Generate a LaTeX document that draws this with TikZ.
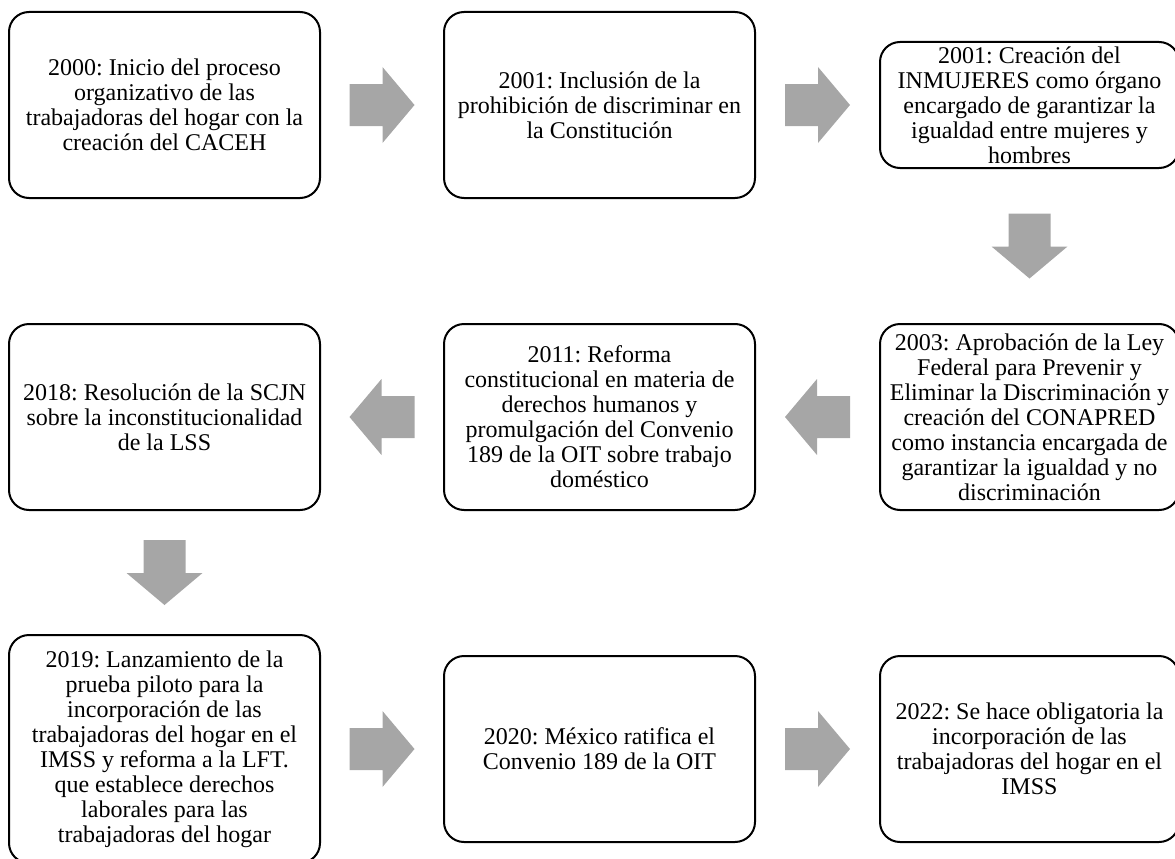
\documentclass[tikz,border=0pt]{standalone}
\usepackage{fontspec}
\setmainfont{Liberation Serif}
\frenchspacing
\usetikzlibrary{positioning,calc}
\definecolor{arrowgray}{RGB}{166,166,166}
\tikzset{blockarrow/.pic={\fill[arrowgray,sharp corners] (-32.5,-21) -- (0.5,-21) -- (0.5,-38) -- (32.5,0) -- (0.5,38) -- (0.5,21) -- (-32.5,21) -- cycle;}}

\begin{document}
\begin{tikzpicture}[x=1pt,y=-1pt, every node/.style={draw,line width=2pt,rounded corners=20pt,align=center,inner sep=0pt,minimum width=311pt,minimum height=186pt,font=\fontsize{24}{25}\selectfont}, narrow/.style={minimum width=299pt}]
				\useasboundingbox (0,0) rectangle (1175,859);
				\node (caceh) at (164.5,105) {2000: Inicio del proceso\\organizativo de las\\trabajadoras del hogar con la\\creación del CACEH};
				\node (const) [right=122pt of caceh] {2001: Inclusión de la\\prohibición de discriminar en\\la Constitución};
				\node (inmuj) [narrow,minimum height=126pt,right=123pt of const] {2001: Creación del\\INMUJERES como órgano\\encargado de garantizar la\\igualdad entre mujeres y\\hombres};
				\node (conap) [narrow,below=154pt of inmuj] {2003: Aprobación de la Ley\\Federal para Prevenir y\\Eliminar la Discriminación y\\creación del CONAPRED\\como instancia encargada de\\garantizar la igualdad y no\\discriminación};
				\node (refor) [left=123pt of conap] {2011: Reforma\\constitucional en materia de\\derechos humanos y\\promulgación del Convenio\\189 de la OIT sobre trabajo\\doméstico};
				\node (scjn) [left=122pt of refor] {2018: Resolución de la SCJN\\sobre la inconstitucionalidad\\de la LSS};
				\node (piloto) [minimum height=228pt,below=123pt of scjn] {2019: Lanzamiento de la\\prueba piloto para la\\incorporación de las\\trabajadoras del hogar en el\\IMSS y reforma a la LFT.\\que establece derechos\\laborales para las\\trabajadoras del hogar};
				\node (ratif) [right=122pt of piloto] {2020: México ratifica el\\Convenio 189 de la OIT};
				\node (oblig) [narrow,right=123pt of ratif] {2022: Se hace obligatoria la\\incorporación de las\\trabajadoras del hogar en el\\IMSS};
				\pic at ($(caceh.east)!.5!(const.west)$) {blockarrow};
				\pic at ($(const.east)!.5!(inmuj.west)$) {blockarrow};
				\pic[rotate=-90] at ($(inmuj.south)!.5!(conap.north)$) {blockarrow};
				\pic[rotate=180] at ($(conap.west)!.5!(refor.east)$) {blockarrow};
				\pic[rotate=180] at ($(refor.west)!.5!(scjn.east)$) {blockarrow};
				\pic[rotate=-90] at ($(scjn.south)!.5!(piloto.north)$) {blockarrow};
				\pic at ($(piloto.east)!.5!(ratif.west)$) {blockarrow};
				\pic at ($(ratif.east)!.5!(oblig.west)$) {blockarrow};
			\end{tikzpicture}
\end{document}
